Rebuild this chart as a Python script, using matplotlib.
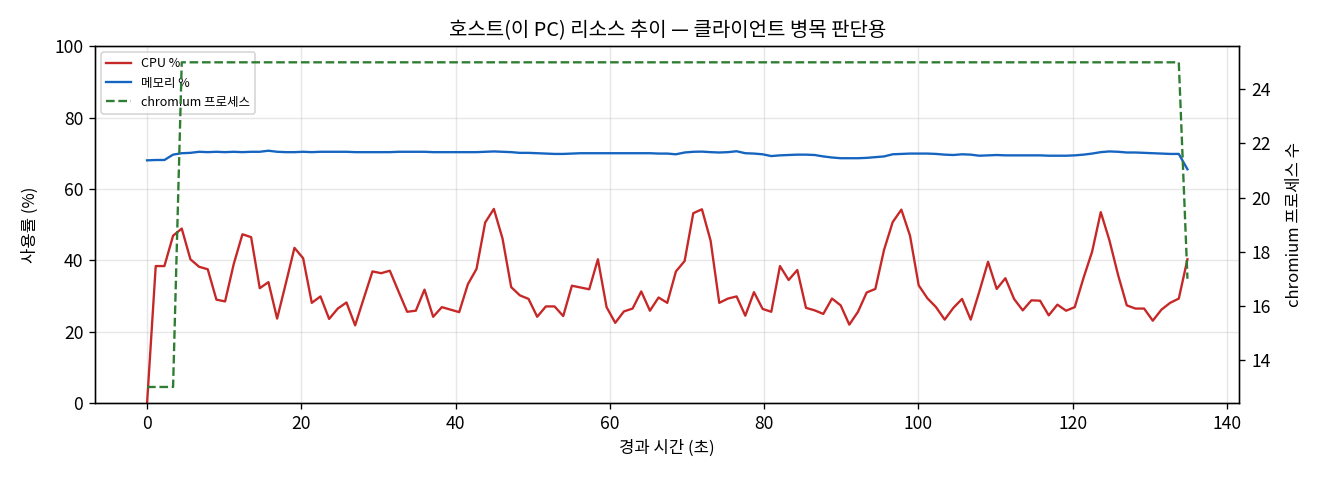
import numpy as np
import matplotlib
matplotlib.use("Agg")
import matplotlib.pyplot as plt

plt.rcParams['font.family'] = ['Noto Sans CJK KR', 'DejaVu Sans']
plt.rcParams['axes.unicode_minus'] = False

SAMPLE_INTERVAL = 1.124  # seconds between samples
cpu = [
    0.0, 38.4, 38.4, 46.9, 48.9, 40.3, 38.2, 37.5, 29.0, 28.5,
    39.0, 47.3, 46.5, 32.2, 33.9, 23.7, 33.5, 43.5, 40.6, 28.1,
    29.9, 23.6, 26.5, 28.2, 21.8, 29.4, 36.9, 36.4, 37.1, 31.3,
    25.6, 25.9, 31.8, 24.2, 26.9, 26.2, 25.5, 33.3, 37.6, 50.6,
    54.4, 46.1, 32.5, 30.2, 29.2, 24.2, 27.1, 27.1, 24.4, 32.9,
    32.4, 31.9, 40.3, 26.9, 22.5, 25.7, 26.5, 31.3, 25.9, 29.6,
    28.1, 36.9, 39.8, 53.2, 54.3, 45.5, 28.1, 29.3, 29.9, 24.5,
    31.1, 26.4, 25.6, 38.4, 34.5, 37.3, 26.7, 26.0, 25.0, 29.3,
    27.4, 22.0, 25.6, 31.0, 32.0, 42.9, 50.7, 54.2, 46.9, 33.0,
    29.4, 26.9, 23.4, 26.7, 29.2, 23.4, 31.3, 39.6, 32.0, 35.0,
    29.2, 26.0, 28.8, 28.7, 24.6, 27.6, 25.9, 26.9, 35.0, 42.4,
    53.5, 45.6, 35.9, 27.4, 26.5, 26.5, 23.1, 26.2, 28.1, 29.3,
    40.3,
]
mem = [
    68.0, 68.1, 68.1, 69.6, 70.0, 70.1, 70.4, 70.3, 70.4, 70.3,
    70.4, 70.3, 70.4, 70.4, 70.7, 70.4, 70.3, 70.3, 70.4, 70.3,
    70.4, 70.4, 70.4, 70.4, 70.3, 70.3, 70.3, 70.3, 70.3, 70.4,
    70.4, 70.4, 70.4, 70.3, 70.3, 70.3, 70.3, 70.3, 70.3, 70.4,
    70.5, 70.4, 70.3, 70.1, 70.1, 70.0, 69.9, 69.8, 69.8, 69.9,
    70.0, 70.0, 70.0, 70.0, 70.0, 70.0, 70.0, 70.0, 70.0, 69.9,
    69.9, 69.7, 70.2, 70.4, 70.45, 70.3, 70.2, 70.3, 70.55, 70.0,
    69.9, 69.7, 69.2, 69.4, 69.5, 69.6, 69.6, 69.5, 69.1, 68.8,
    68.6, 68.6, 68.6, 68.7, 68.9, 69.1, 69.7, 69.8, 69.9, 69.9,
    69.9, 69.8, 69.6, 69.5, 69.7, 69.6, 69.3, 69.4, 69.5, 69.4,
    69.4, 69.4, 69.4, 69.4, 69.3, 69.3, 69.3, 69.4, 69.6, 69.9,
    70.3, 70.5, 70.4, 70.2, 70.2, 70.1, 70.0, 69.9, 69.8, 69.8,
    65.5,
]
chromium = [13, 13, 13, 13] + [25] * 116 + [17]

t = np.arange(len(cpu)) * SAMPLE_INTERVAL

fig, ax = plt.subplots(figsize=(11, 4), dpi=120)
l1, = ax.plot(t, cpu, color='#c62828', lw=1.4, label='CPU %')
l2, = ax.plot(t, mem, color='#1565c0', lw=1.4, label='메모리 %')
ax.set_ylim(0, 100)
ax.set_xlabel('경과 시간 (초)')
ax.set_ylabel('사용률 (%)', labelpad=9)
ax.grid(True, alpha=0.3)
ax.tick_params(labelsize=10.5)
ax2 = ax.twinx()
l3, = ax2.plot(t, chromium, color='#2e7d32', lw=1.4, ls='--', label='chromium 프로세스')
ax2.set_ylabel('chromium 프로세스 수', labelpad=9)
ax2.tick_params(labelsize=10.5)
ax.set_title('호스트(이 PC) 리소스 추이 — 클라이언트 병목 판단용')
ax.legend(handles=[l1, l2, l3], loc='upper left', fontsize=7.5)
fig.subplots_adjust(left=0.072, right=0.939, top=0.904, bottom=0.160)
fig.savefig('out.png')
